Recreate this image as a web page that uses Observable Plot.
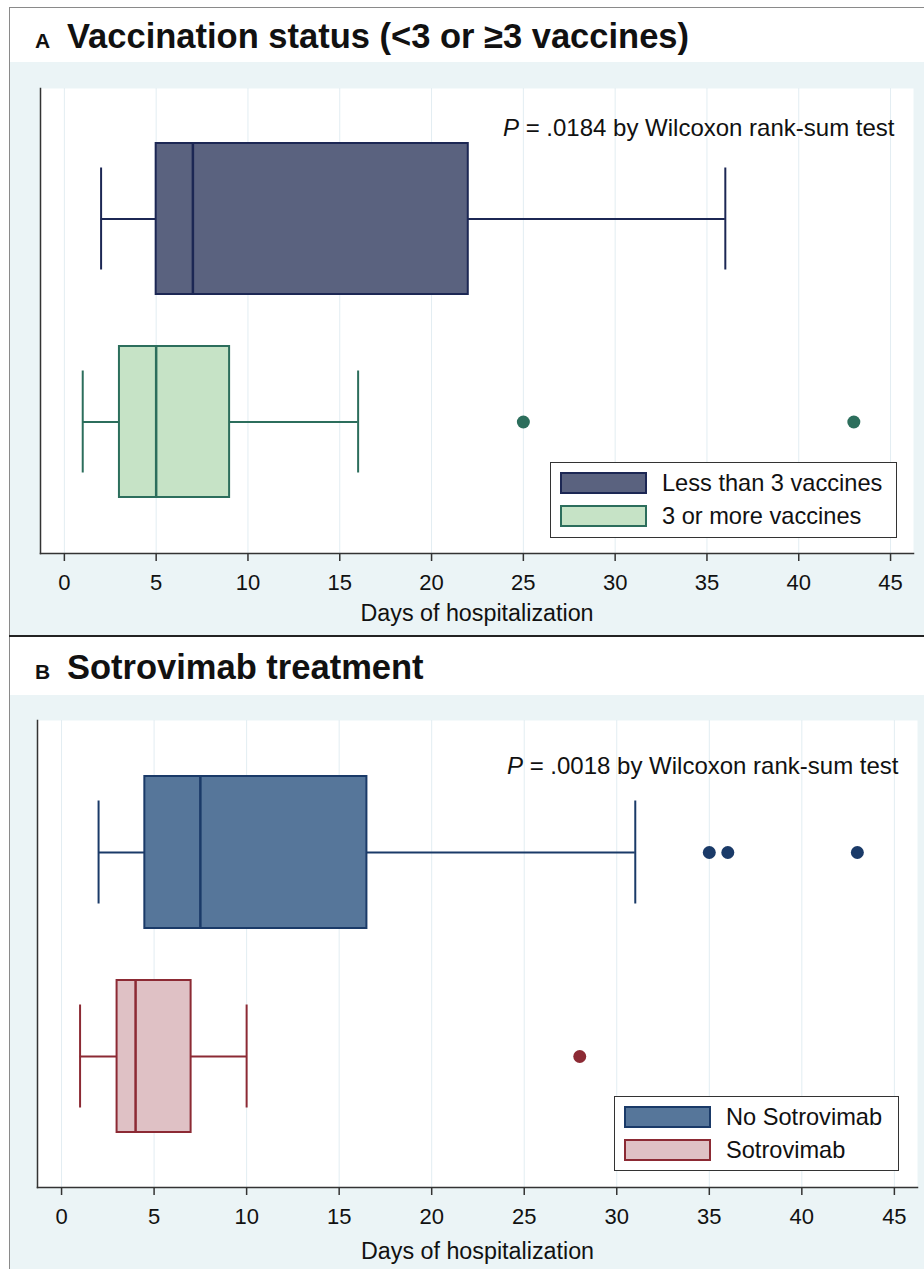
<!DOCTYPE html>
<html>
<head>
<meta charset="utf-8">
<script src="https://cdn.jsdelivr.net/npm/d3@7"></script>
<script src="https://cdn.jsdelivr.net/npm/@observablehq/plot@0.6"></script>
<style>
  html, body { margin: 0; padding: 0; background: #fff; }
  #page { position: relative; width: 924px; height: 1269px; overflow: hidden; background: #fff;
          font-family: "Liberation Sans", Arial, Helvetica, sans-serif; color: #111; }
  .title { position: absolute; left: 35px; white-space: nowrap; font-weight: bold; line-height: 40px; }
  .title .letter { display: inline-block; width: 32px; font-size: 21px; }
  .title .main { font-size: 34.5px; }
  .region { position: absolute; left: 10px; width: 914px; background: #ebf4f6; }
  .legend { position: absolute; background: #fff; border: 1.5px solid #333; box-sizing: border-box; }
  .legend .row { position: absolute; left: 9px; height: 22px; display: flex; align-items: center; }
  .legend .sw { width: 87px; height: 22px; box-sizing: border-box; border: 2px solid; }
  .legend .lab { margin-left: 15px; font-size: 23.6px; white-space: nowrap; }
</style>
</head>
<body>
<div id="page">
  <div style="position:absolute;left:9px;top:7px;width:915px;height:1px;background:#8a8a8a"></div>
  <div style="position:absolute;left:9px;top:7px;width:1px;height:1262px;background:#8a8a8a"></div>
  <div class="title" style="top:16px"><span class="letter">A</span><span class="main">Vaccination status (&lt;3 or ≥3 vaccines)</span></div>
  <div class="region" id="regionA" style="top:62px;height:573px"></div>
  <div style="position:absolute;left:9px;top:635px;width:915px;height:2px;background:#222"></div>
  <div class="title" style="top:647px"><span class="letter">B</span><span class="main">Sotrovimab treatment</span></div>
  <div class="region" id="regionB" style="top:695px;height:574px"></div>
</div>
<script>
// ---- data ----
const dayTicks = [0, 5, 10, 15, 20, 25, 30, 35, 40, 45];
const dayDomain = [-1.3, 46.25];
const axisTitle = "Days of hospitalization";

// Panel A: vaccination status
const vaccGroups = ["Less than 3 vaccines", "3 or more vaccines"];
const vaccLow = [2, 1];
const vaccQ1 = [5, 3];
const vaccMedian = [7, 5];
const vaccQ3 = [22, 9];
const vaccHigh = [36, 16];
const vaccOutlierGroup = ["3 or more vaccines", "3 or more vaccines"];
const vaccOutlierDays = [25, 43];
const vaccFill = ["#5a627f", "#c6e3c6"];
const vaccStroke = ["#1c2754", "#2c6e5c"];
const vaccP = "P = .0184 by Wilcoxon rank-sum test";

// Panel B: sotrovimab treatment
const sotGroups = ["No Sotrovimab", "Sotrovimab"];
const sotLow = [2, 1];
const sotQ1 = [4.5, 3];
const sotMedian = [7.5, 4];
const sotQ3 = [16.5, 7];
const sotHigh = [31, 10];
const sotOutlierGroup = ["No Sotrovimab", "No Sotrovimab", "No Sotrovimab", "Sotrovimab"];
const sotOutlierDays = [35, 36, 43, 28];
const sotFill = ["#56769a", "#dfc1c5"];
const sotStroke = ["#1a3a68", "#8c2a34"];
const sotP = "P = .0018 by Wilcoxon rank-sum test";

function makePanel(cfg) {
  const rows = cfg.groups.map((g, i) => ({
    group: g, low: cfg.low[i], q1: cfg.q1[i], median: cfg.median[i], q3: cfg.q3[i], high: cfg.high[i],
    fill: cfg.fill[i], stroke: cfg.stroke[i]
  }));
  const outliers = cfg.outGroup.map((g, i) => {
    const k = cfg.groups.indexOf(g);
    return { group: g, days: cfg.outDays[i], fill: cfg.stroke[k] };
  });
  const svg = Plot.plot({
    width: 914, height: cfg.height,
    marginLeft: cfg.ml, marginRight: cfg.mr, marginTop: cfg.mt, marginBottom: 82,
    style: { background: "transparent", fontFamily: "'Liberation Sans', Arial, Helvetica, sans-serif", color: "#111", overflow: "visible" },
    x: { domain: dayDomain },
    y: { domain: cfg.groups, type: "band", paddingInner: 0.255, paddingOuter: 0.27, axis: null },
    color: { type: "identity" },
    marks: [
      Plot.frame({ fill: "white", stroke: "none" }),
      Plot.ruleX(dayTicks, { stroke: "#e2edf2", strokeWidth: 1 }),
      Plot.ruleY(rows, { y: "group", x1: "low", x2: "high", stroke: "stroke", strokeWidth: 2 }),
      Plot.barX(rows, { y: "group", x1: "q1", x2: "q3", fill: "fill", stroke: "stroke", strokeWidth: 2 }),
      Plot.tickX(rows, { y: "group", x: "median", stroke: "stroke", strokeWidth: 2.5 }),
      Plot.tickX(rows, { y: "group", x: "low", stroke: "stroke", strokeWidth: 2, insetTop: 24.5, insetBottom: 24.5 }),
      Plot.tickX(rows, { y: "group", x: "high", stroke: "stroke", strokeWidth: 2, insetTop: 24.5, insetBottom: 24.5 }),
      Plot.dot(outliers, { x: "days", y: "group", fill: "fill", r: 6.5 }),
      Plot.text([cfg.p], { frameAnchor: "top-right", textAnchor: "end", lineAnchor: "middle", dx: -19, dy: cfg.pdy, fontSize: 24, fill: "#111" }),
      Plot.frame({ anchor: "left", stroke: "#333", strokeWidth: 1.5 }),
      Plot.frame({ anchor: "bottom", stroke: "#333", strokeWidth: 1.5 }),
      Plot.axisX({ ticks: dayTicks, tickSize: 8, tickPadding: 13, fontSize: 22, label: null, stroke: "#333", strokeWidth: 1.5, fill: "#111" }),
      Plot.text([axisTitle], { frameAnchor: "bottom", lineAnchor: "top", dy: cfg.tdy, fontSize: 23.3, fill: "#111" })
    ]
  });
  // italic P in the test annotation
  d3.select(svg).selectAll("text").each(function () {
    if (this.textContent === cfg.p) {
      const rest = cfg.p.slice(1);
      this.textContent = "";
      d3.select(this).append("tspan").attr("font-style", "italic").text("P");
      d3.select(this).append("tspan").text(rest);
    }
  });
  const region = document.getElementById(cfg.region);
  region.appendChild(svg);
  // legend
  const lg = document.createElement("div");
  lg.className = "legend";
  Object.assign(lg.style, { left: cfg.leg[0] + "px", top: cfg.leg[1] + "px", width: cfg.leg[2] + "px", height: cfg.leg[3] + "px" });
  cfg.groups.forEach((g, i) => {
    const row = document.createElement("div");
    row.className = "row";
    row.style.top = (9 + i * 33) + "px";
    const sw = document.createElement("div");
    sw.className = "sw";
    sw.style.background = cfg.fill[i];
    sw.style.borderColor = cfg.stroke[i];
    const lab = document.createElement("span");
    lab.className = "lab";
    lab.textContent = g;
    row.appendChild(sw); row.appendChild(lab);
    lg.appendChild(row);
  });
  region.appendChild(lg);
}

makePanel({
  region: "regionA", height: 573, ml: 30, mr: 11, mt: 26, pdy: 40, tdy: 51,
  groups: vaccGroups, low: vaccLow, q1: vaccQ1, median: vaccMedian, q3: vaccQ3, high: vaccHigh,
  outGroup: vaccOutlierGroup, outDays: vaccOutlierDays, fill: vaccFill, stroke: vaccStroke, p: vaccP,
  leg: [540, 400, 347, 76]
});
makePanel({
  region: "regionB", height: 574, ml: 27, mr: 7, mt: 25, pdy: 46, tdy: 55,
  groups: sotGroups, low: sotLow, q1: sotQ1, median: sotMedian, q3: sotQ3, high: sotHigh,
  outGroup: sotOutlierGroup, outDays: sotOutlierDays, fill: sotFill, stroke: sotStroke, p: sotP,
  leg: [604, 401, 285, 75]
});
</script>
</body>
</html>
